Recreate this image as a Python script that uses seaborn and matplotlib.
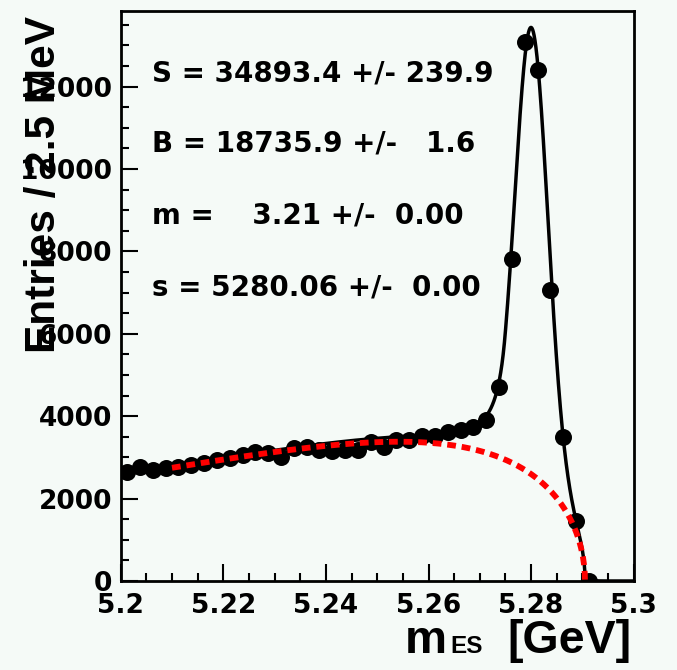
import numpy as np
import pandas as pd
import matplotlib
matplotlib.use("Agg")
import matplotlib.pyplot as plt
from matplotlib.ticker import MultipleLocator, FixedLocator, FuncFormatter
import seaborn as sns

# ---- histogram: m_ES, 2.5 MeV bins starting at 5.2 GeV ----
bin_width = 0.0025
bin_low = 5.2
counts = [2650, 2760, 2690, 2735, 2775, 2815, 2870, 2935, 2980, 3060,
          3125, 3115, 3015, 3220, 3260, 3180, 3160, 3175, 3180, 3370,
          3260, 3420, 3410, 3530, 3530, 3610, 3665, 3745, 3900, 4700,
          7815, 13090, 12400, 7050, 3490, 1455, 0]

# ---- fit results printed on the plot ----
sig_yield, sig_yield_err = 34893.4, 239.9
bkg_par, bkg_par_err = 18735.9, 1.6
sig_width, sig_width_err = 3.21, 0.00      # MeV
sig_mean, sig_mean_err = 5280.06, 0.00     # MeV

# ARGUS background shape and Crystal Ball tail settings
argus_m0 = 5.2905
argus_c = -36.0
argus_norm = 9000.0
cb_alpha = 1.6
cb_n = 1.6
fit_low, fit_high = 5.21, 5.30

x_ticks = [5.2, 5.22, 5.24, 5.26, 5.28, 5.3]
y_ticks = [0, 2000, 4000, 6000, 8000, 10000, 12000]


def argus(m):
    z = 1.0 - (m / argus_m0) ** 2
    out = np.zeros_like(m)
    ok = z > 0
    out[ok] = argus_norm * m[ok] * np.sqrt(z[ok]) * np.exp(argus_c * z[ok])
    return out


def crystal_ball(m):
    mu = sig_mean / 1000.0
    sigma = sig_width / 1000.0
    amp = sig_yield * bin_width / (np.sqrt(2 * np.pi) * sigma)
    t = (m - mu) / sigma
    a = (cb_n / cb_alpha) ** cb_n * np.exp(-cb_alpha ** 2 / 2)
    b = cb_n / cb_alpha - cb_alpha
    core = np.exp(-0.5 * t ** 2)
    tail = a * np.power(np.clip(b - t, 1e-9, None), -cb_n)
    return amp * np.where(t > -cb_alpha, core, tail)


centers = bin_low + bin_width * (np.arange(len(counts)) + 0.5)
hist = pd.DataFrame({"mES": centers, "entries": counts})

m_tot = np.linspace(fit_low, fit_high, 3000)
m_bkg = np.linspace(fit_low, argus_m0, 3000)
total = pd.DataFrame({"mES": m_tot, "y": crystal_ball(m_tot) + argus(m_tot)})
background = pd.DataFrame({"mES": m_bkg, "y": argus(m_bkg)})

sns.set_style("ticks")
bg = "#f5faf7"
plt.rcParams["font.family"] = ["DejaVu Sans"]
plt.rcParams["text.color"] = "black"
plt.rcParams["xtick.color"] = "black"
plt.rcParams["ytick.color"] = "black"

fig = plt.figure(figsize=(6.77, 6.70), dpi=100, facecolor=bg)
W, H = 677.0, 670.0
ax_l, ax_r, ax_t, ax_b = 120.7, 633.7, 10.7, 581.0
ax = fig.add_axes([ax_l / W, 1 - ax_b / H, (ax_r - ax_l) / W, (ax_b - ax_t) / H])
ax.set_facecolor(bg)

sns.scatterplot(data=hist, x="mES", y="entries", ax=ax, color="black",
                s=150, linewidth=0, zorder=3, legend=False)
sns.lineplot(data=total, x="mES", y="y", ax=ax, color="black", lw=2.5,
             estimator=None, sort=False, zorder=4)
sns.lineplot(data=background, x="mES", y="y", ax=ax, color="#ff0000", lw=4.2,
             linestyle=(0, (1.5, 1.0)), dash_capstyle="butt",
             estimator=None, sort=False, zorder=5)

ax.set_xlim(5.2, 5.3)
ax.set_ylim(0, 13840)
ax.xaxis.set_major_locator(FixedLocator(x_ticks))
ax.xaxis.set_minor_locator(MultipleLocator(0.005))
ax.yaxis.set_major_locator(FixedLocator(y_ticks))
ax.yaxis.set_minor_locator(MultipleLocator(500))
ax.xaxis.set_major_formatter(FuncFormatter(lambda v, p: f"{v:g}"))
ax.yaxis.set_major_formatter(FuncFormatter(lambda v, p: f"{v:.0f}"))
ax.tick_params(axis="both", which="both", direction="in", width=1.5,
               top=False, right=False, colors="black", labelcolor="black")
ax.tick_params(axis="both", which="major", length=12)
ax.tick_params(axis="both", which="minor", length=6)
ax.tick_params(axis="x", which="major", pad=8.5)
ax.tick_params(axis="y", which="major", pad=6)
for lab in ax.get_xticklabels() + ax.get_yticklabels():
    lab.set_fontsize(19)
    lab.set_fontweight("bold")
for sp in ax.spines.values():
    sp.set_linewidth(2.0)
    sp.set_color("black")
    sp.set_visible(True)
ax.set_xlabel("")
ax.set_ylabel("")

# fit summary
rows = [
    f"S = {sig_yield:.1f} +/- {sig_yield_err:.1f}",
    f"B = {bkg_par:.1f} +/-   {bkg_par_err:.1f}",
    f"m =    {sig_width:.2f} +/-  {sig_width_err:.2f}",
    f"s = {sig_mean:.2f} +/-  {sig_mean_err:.2f}",
]
for txt, base in zip(rows, [81, 152, 224, 296]):
    fig.text(152 / W, 1 - base / H, txt, fontsize=20, fontweight="bold",
             ha="left", va="baseline", color="black")

# axis titles
title_font = ["Liberation Sans", "DejaVu Sans"]
fig.text(55 / W, 1 - 353 / H, "Entries / 2.5 MeV", rotation=90,
         rotation_mode="anchor", ha="left", va="baseline", fontsize=30.5,
         fontweight="bold", family=title_font, color="black")
lab_base = 1 - 653 / H
fig.text(405 / W, lab_base, "m", fontsize=34, fontweight="bold",
         family=title_font, ha="left", va="baseline", color="black")
fig.text(450 / W, lab_base, "ES", fontsize=17.5, fontweight="bold",
         family=title_font, ha="left", va="baseline", color="black")
fig.text(632 / W, lab_base, "[GeV]", fontsize=33.5, fontweight="bold",
         family=title_font, ha="right", va="baseline", color="black")

fig.savefig("out.png", dpi=100, facecolor=bg)
